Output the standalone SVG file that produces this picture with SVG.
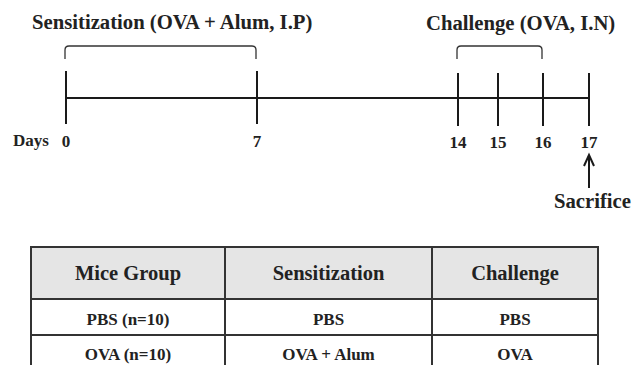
<svg xmlns="http://www.w3.org/2000/svg" width="633" height="365" viewBox="0 0 633 365">
<style>
text{font-family:"Liberation Serif","Times New Roman",serif;font-weight:bold;fill:#222}
.t{font-size:20.7px}
.d{font-size:17px;text-anchor:middle}
.h{font-size:20.5px;text-anchor:middle}
.r{font-size:17px;text-anchor:middle}
.ln{stroke:#1a1a1a;stroke-width:2;fill:none}
.br{stroke:#333;stroke-width:1.3;fill:none}
.tb{stroke:#333;stroke-width:2;fill:none}
</style>
<rect width="633" height="365" fill="#fff"/>
<g id="timeline">
<line class="ln" x1="66" y1="98" x2="589" y2="98"/>
<line class="ln" x1="66" y1="71" x2="66" y2="124"/>
<line class="ln" x1="257" y1="71" x2="257" y2="124"/>
<line class="ln" x1="458" y1="73" x2="458" y2="126"/>
<line class="ln" x1="498" y1="73" x2="498" y2="126"/>
<line class="ln" x1="543" y1="73" x2="543" y2="126"/>
<line class="ln" x1="589" y1="73" x2="589" y2="126"/>
</g>
<g id="sensitization">
<path class="br" d="M65,59 V50 Q65,46 69,46 H252 Q256,46 256,50 V59"/>
<text class="t" x="32" y="29">Sensitization (OVA + Alum, I.P)</text>
</g>
<g id="challenge">
<path class="br" d="M457,59 V50 Q457,46 461,46 H538 Q542,46 542,50 V59"/>
<text class="t" x="426" y="30">Challenge (OVA, I.N)</text>
</g>
<g id="days">
<text class="d" x="31" y="146">Days</text>
<text class="d" x="66" y="147">0</text>
<text class="d" x="257" y="147">7</text>
<text class="d" x="458" y="148">14</text>
<text class="d" x="498" y="148">15</text>
<text class="d" x="543" y="148">16</text>
<text class="d" x="589" y="148">17</text>
</g>
<g id="sacrifice">
<text class="t" x="554" y="208">Sacrifice</text>
</g>
<g id="connectors">
<line class="ln" x1="589" y1="188" x2="589" y2="156"/>
<path class="ln" d="M584,166 L589,155 L594,166" stroke-width="1.8"/>
</g>
<g id="table">
<rect x="31" y="247" width="567" height="52" fill="#e5e5e5"/>
<line class="tb" x1="31" y1="247" x2="598" y2="247"/>
<line class="tb" x1="31" y1="299" x2="598" y2="299"/>
<line class="tb" x1="31" y1="335" x2="598" y2="335"/>
<line class="tb" x1="31" y1="246" x2="31" y2="365"/>
<line class="tb" x1="225" y1="246" x2="225" y2="365"/>
<line class="tb" x1="432" y1="246" x2="432" y2="365"/>
<line class="tb" x1="598" y1="246" x2="598" y2="365"/>
<text class="h" x="128" y="280">Mice Group</text>
<text class="h" x="328.5" y="280">Sensitization</text>
<text class="h" x="515" y="280">Challenge</text>
<text class="r" x="128" y="325">PBS (n=10)</text>
<text class="r" x="328.5" y="325">PBS</text>
<text class="r" x="515" y="325">PBS</text>
<text class="r" x="128" y="360">OVA (n=10)</text>
<text class="r" x="328.5" y="360">OVA + Alum</text>
<text class="r" x="515" y="360">OVA</text>
</g>
</svg>
